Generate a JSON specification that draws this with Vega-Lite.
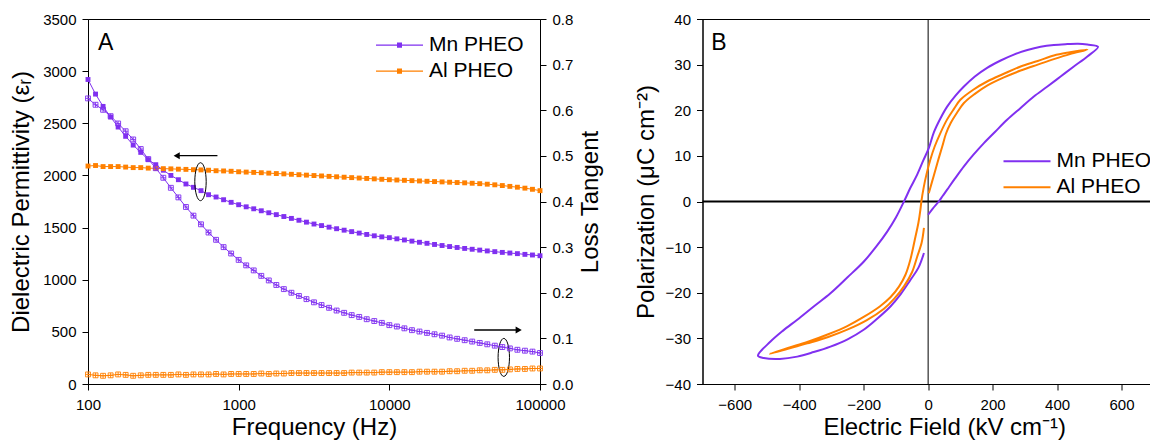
{
"$schema": "https://vega.github.io/schema/vega-lite/v6.json",
"background": "white",
"padding": {"left": 9, "top": 11, "right": 0, "bottom": 0},
"config": {
  "font": "Liberation Sans",
  "view": {"stroke": "black", "strokeWidth": 1},
  "axis": {"labelFont": "Liberation Sans", "labelFontSize": 15, "labelColor": "black", "titleFont": "Liberation Sans", "titleFontSize": 24, "titleFontWeight": "normal", "titleColor": "black", "domainColor": "black", "tickColor": "black", "grid": false, "labelPadding": 6, "domainWidth": 1, "tickWidth": 1, "labelFlush": false},
  "legend": {"labelFont": "Liberation Sans", "labelFontSize": 21, "labelColor": "black"},
  "text": {"font": "Liberation Sans"}
},
"datasets": {
  "freq": [
{"f":100,"s":"Mn PHEO","eps":2920,"tan":0.626},{"f":112.2,"s":"Mn PHEO","eps":2780,"tan":0.612},{"f":125.9,"s":"Mn PHEO","eps":2662,"tan":0.601},{"f":141.3,"s":"Mn PHEO","eps":2560,"tan":0.587},{"f":158.5,"s":"Mn PHEO","eps":2464,"tan":0.571},{"f":177.8,"s":"Mn PHEO","eps":2375,"tan":0.554},{"f":199.5,"s":"Mn PHEO","eps":2291,"tan":0.536},{"f":223.9,"s":"Mn PHEO","eps":2221,"tan":0.515},{"f":251.2,"s":"Mn PHEO","eps":2151,"tan":0.493},{"f":281.8,"s":"Mn PHEO","eps":2103,"tan":0.473},
{"f":316.2,"s":"Mn PHEO","eps":2050,"tan":0.452},{"f":354.8,"s":"Mn PHEO","eps":2000,"tan":0.430},{"f":398.1,"s":"Mn PHEO","eps":1959,"tan":0.409},{"f":446.7,"s":"Mn PHEO","eps":1918,"tan":0.388},{"f":501.2,"s":"Mn PHEO","eps":1886,"tan":0.369},{"f":562.3,"s":"Mn PHEO","eps":1854,"tan":0.350},{"f":631,"s":"Mn PHEO","eps":1815,"tan":0.332},{"f":707.9,"s":"Mn PHEO","eps":1793,"tan":0.316},{"f":794.3,"s":"Mn PHEO","eps":1767,"tan":0.300},{"f":891.3,"s":"Mn PHEO","eps":1742,"tan":0.286},
{"f":1000,"s":"Mn PHEO","eps":1719,"tan":0.272},{"f":1122,"s":"Mn PHEO","eps":1699,"tan":0.260},{"f":1259,"s":"Mn PHEO","eps":1680,"tan":0.249},{"f":1413,"s":"Mn PHEO","eps":1661,"tan":0.237},{"f":1585,"s":"Mn PHEO","eps":1642,"tan":0.227},{"f":1778,"s":"Mn PHEO","eps":1624,"tan":0.217},{"f":1995,"s":"Mn PHEO","eps":1606,"tan":0.208},{"f":2239,"s":"Mn PHEO","eps":1588,"tan":0.200},{"f":2512,"s":"Mn PHEO","eps":1570,"tan":0.193},{"f":2818,"s":"Mn PHEO","eps":1552,"tan":0.186},
{"f":3162,"s":"Mn PHEO","eps":1534,"tan":0.179},{"f":3548,"s":"Mn PHEO","eps":1519,"tan":0.173},{"f":3981,"s":"Mn PHEO","eps":1504,"tan":0.167},{"f":4467,"s":"Mn PHEO","eps":1489,"tan":0.161},{"f":5012,"s":"Mn PHEO","eps":1475,"tan":0.156},{"f":5623,"s":"Mn PHEO","eps":1461,"tan":0.151},{"f":6310,"s":"Mn PHEO","eps":1447,"tan":0.147},{"f":7079,"s":"Mn PHEO","eps":1434,"tan":0.142},{"f":7943,"s":"Mn PHEO","eps":1421,"tan":0.138},{"f":8913,"s":"Mn PHEO","eps":1411,"tan":0.134},
{"f":10000,"s":"Mn PHEO","eps":1403,"tan":0.129},{"f":11220,"s":"Mn PHEO","eps":1392,"tan":0.126},{"f":12590,"s":"Mn PHEO","eps":1381,"tan":0.122},{"f":14130,"s":"Mn PHEO","eps":1370,"tan":0.118},{"f":15850,"s":"Mn PHEO","eps":1359,"tan":0.115},{"f":17780,"s":"Mn PHEO","eps":1349,"tan":0.112},{"f":19950,"s":"Mn PHEO","eps":1338,"tan":0.109},{"f":22390,"s":"Mn PHEO","eps":1328,"tan":0.106},{"f":25120,"s":"Mn PHEO","eps":1318,"tan":0.102},{"f":28180,"s":"Mn PHEO","eps":1309,"tan":0.099},
{"f":31620,"s":"Mn PHEO","eps":1300,"tan":0.096},{"f":35480,"s":"Mn PHEO","eps":1292,"tan":0.093},{"f":39810,"s":"Mn PHEO","eps":1284,"tan":0.090},{"f":44670,"s":"Mn PHEO","eps":1276,"tan":0.087},{"f":50120,"s":"Mn PHEO","eps":1269,"tan":0.084},{"f":56230,"s":"Mn PHEO","eps":1262,"tan":0.081},{"f":63100,"s":"Mn PHEO","eps":1256,"tan":0.078},{"f":70790,"s":"Mn PHEO","eps":1250,"tan":0.075},{"f":79430,"s":"Mn PHEO","eps":1243,"tan":0.073},{"f":89130,"s":"Mn PHEO","eps":1237,"tan":0.071},{"f":100000,"s":"Mn PHEO","eps":1230,"tan":0.068},
{"f":100,"s":"Al PHEO","eps":2090,"tan":0.021},{"f":112.2,"s":"Al PHEO","eps":2095,"tan":0.019},{"f":125.9,"s":"Al PHEO","eps":2085,"tan":0.018},{"f":141.3,"s":"Al PHEO","eps":2085,"tan":0.019},{"f":158.5,"s":"Al PHEO","eps":2085,"tan":0.021},{"f":177.8,"s":"Al PHEO","eps":2080,"tan":0.020},{"f":199.5,"s":"Al PHEO","eps":2075,"tan":0.018},{"f":223.9,"s":"Al PHEO","eps":2075,"tan":0.019},{"f":251.2,"s":"Al PHEO","eps":2070,"tan":0.020},{"f":281.8,"s":"Al PHEO","eps":2068,"tan":0.020},
{"f":316.2,"s":"Al PHEO","eps":2065,"tan":0.020},{"f":354.8,"s":"Al PHEO","eps":2063,"tan":0.020},{"f":398.1,"s":"Al PHEO","eps":2060,"tan":0.021},{"f":446.7,"s":"Al PHEO","eps":2058,"tan":0.020},{"f":501.2,"s":"Al PHEO","eps":2055,"tan":0.021},{"f":562.3,"s":"Al PHEO","eps":2053,"tan":0.021},{"f":631,"s":"Al PHEO","eps":2050,"tan":0.021},{"f":707.9,"s":"Al PHEO","eps":2045,"tan":0.022},{"f":794.3,"s":"Al PHEO","eps":2043,"tan":0.021},{"f":891.3,"s":"Al PHEO","eps":2040,"tan":0.022},
{"f":1000,"s":"Al PHEO","eps":2035,"tan":0.022},{"f":1122,"s":"Al PHEO","eps":2032,"tan":0.022},{"f":1259,"s":"Al PHEO","eps":2029,"tan":0.022},{"f":1413,"s":"Al PHEO","eps":2026,"tan":0.023},{"f":1585,"s":"Al PHEO","eps":2022,"tan":0.022},{"f":1778,"s":"Al PHEO","eps":2018,"tan":0.023},{"f":1995,"s":"Al PHEO","eps":2015,"tan":0.023},{"f":2239,"s":"Al PHEO","eps":2011,"tan":0.024},{"f":2512,"s":"Al PHEO","eps":2007,"tan":0.024},{"f":2818,"s":"Al PHEO","eps":2003,"tan":0.024},
{"f":3162,"s":"Al PHEO","eps":1999,"tan":0.024},{"f":3548,"s":"Al PHEO","eps":1995,"tan":0.024},{"f":3981,"s":"Al PHEO","eps":1991,"tan":0.024},{"f":4467,"s":"Al PHEO","eps":1987,"tan":0.024},{"f":5012,"s":"Al PHEO","eps":1983,"tan":0.024},{"f":5623,"s":"Al PHEO","eps":1979,"tan":0.025},{"f":6310,"s":"Al PHEO","eps":1975,"tan":0.025},{"f":7079,"s":"Al PHEO","eps":1971,"tan":0.025},{"f":7943,"s":"Al PHEO","eps":1967,"tan":0.025},{"f":8913,"s":"Al PHEO","eps":1963,"tan":0.026},
{"f":10000,"s":"Al PHEO","eps":1959,"tan":0.026},{"f":11220,"s":"Al PHEO","eps":1956,"tan":0.026},{"f":12590,"s":"Al PHEO","eps":1953,"tan":0.026},{"f":14130,"s":"Al PHEO","eps":1950,"tan":0.026},{"f":15850,"s":"Al PHEO","eps":1947,"tan":0.027},{"f":17780,"s":"Al PHEO","eps":1944,"tan":0.027},{"f":19950,"s":"Al PHEO","eps":1941,"tan":0.027},{"f":22390,"s":"Al PHEO","eps":1938,"tan":0.027},{"f":25120,"s":"Al PHEO","eps":1935,"tan":0.028},{"f":28180,"s":"Al PHEO","eps":1932,"tan":0.028},
{"f":31620,"s":"Al PHEO","eps":1929,"tan":0.029},{"f":35480,"s":"Al PHEO","eps":1925,"tan":0.029},{"f":39810,"s":"Al PHEO","eps":1921,"tan":0.030},{"f":44670,"s":"Al PHEO","eps":1916,"tan":0.030},{"f":50120,"s":"Al PHEO","eps":1910,"tan":0.031},{"f":56230,"s":"Al PHEO","eps":1903,"tan":0.031},{"f":63100,"s":"Al PHEO","eps":1895,"tan":0.032},{"f":70790,"s":"Al PHEO","eps":1887,"tan":0.033},{"f":79430,"s":"Al PHEO","eps":1878,"tan":0.033},{"f":89130,"s":"Al PHEO","eps":1867,"tan":0.034},{"f":100000,"s":"Al PHEO","eps":1854,"tan":0.034}
  ],
  "loops": [
{"s":"Mn PHEO","k":0,"E":-13,"P":-11.3},{"s":"Mn PHEO","k":1,"E":-30,"P":-14.5},{"s":"Mn PHEO","k":2,"E":-55,"P":-17.2},{"s":"Mn PHEO","k":3,"E":-85,"P":-20.3},{"s":"Mn PHEO","k":4,"E":-117,"P":-23.0},{"s":"Mn PHEO","k":5,"E":-160,"P":-25.8},{"s":"Mn PHEO","k":6,"E":-200,"P":-28.1},{"s":"Mn PHEO","k":7,"E":-250,"P":-30.2},{"s":"Mn PHEO","k":8,"E":-303,"P":-31.8},{"s":"Mn PHEO","k":9,"E":-355,"P":-33.0},{"s":"Mn PHEO","k":10,"E":-406,"P":-34.0},{"s":"Mn PHEO","k":11,"E":-460,"P":-34.5},{"s":"Mn PHEO","k":12,"E":-510,"P":-34.3},{"s":"Mn PHEO","k":13,"E":-528,"P":-33.8},
{"s":"Mn PHEO","k":14,"E":-489,"P":-30.7},{"s":"Mn PHEO","k":15,"E":-450,"P":-28.3},{"s":"Mn PHEO","k":16,"E":-406,"P":-25.9},{"s":"Mn PHEO","k":17,"E":-355,"P":-23.0},{"s":"Mn PHEO","k":18,"E":-303,"P":-20.1},{"s":"Mn PHEO","k":19,"E":-250,"P":-16.6},{"s":"Mn PHEO","k":20,"E":-200,"P":-13.2},{"s":"Mn PHEO","k":21,"E":-160,"P":-9.8},{"s":"Mn PHEO","k":22,"E":-127,"P":-6.6},{"s":"Mn PHEO","k":23,"E":-100,"P":-3.5},{"s":"Mn PHEO","k":24,"E":-75,"P":0},{"s":"Mn PHEO","k":25,"E":-55,"P":3.0},{"s":"Mn PHEO","k":26,"E":-34,"P":5.9},{"s":"Mn PHEO","k":27,"E":-15,"P":9.0},{"s":"Mn PHEO","k":28,"E":2,"P":11.7},{"s":"Mn PHEO","k":29,"E":18,"P":15.2},{"s":"Mn PHEO","k":30,"E":38,"P":18.2},{"s":"Mn PHEO","k":31,"E":59,"P":20.8},{"s":"Mn PHEO","k":32,"E":85,"P":23.2},{"s":"Mn PHEO","k":33,"E":111,"P":25.2},{"s":"Mn PHEO","k":34,"E":145,"P":27.4},{"s":"Mn PHEO","k":35,"E":183,"P":29.3},{"s":"Mn PHEO","k":36,"E":225,"P":30.9},{"s":"Mn PHEO","k":37,"E":266,"P":32.2},{"s":"Mn PHEO","k":38,"E":308,"P":33.2},{"s":"Mn PHEO","k":39,"E":349,"P":33.9},{"s":"Mn PHEO","k":40,"E":390,"P":34.3},{"s":"Mn PHEO","k":41,"E":432,"P":34.5},{"s":"Mn PHEO","k":42,"E":465,"P":34.6},{"s":"Mn PHEO","k":43,"E":494,"P":34.4},{"s":"Mn PHEO","k":44,"E":527,"P":33.9},
{"s":"Mn PHEO","k":45,"E":494,"P":31.8},{"s":"Mn PHEO","k":46,"E":452,"P":29.6},{"s":"Mn PHEO","k":47,"E":411,"P":27.4},{"s":"Mn PHEO","k":48,"E":370,"P":25.2},{"s":"Mn PHEO","k":49,"E":328,"P":23.0},{"s":"Mn PHEO","k":50,"E":287,"P":20.5},{"s":"Mn PHEO","k":51,"E":245,"P":17.9},{"s":"Mn PHEO","k":52,"E":208,"P":15.3},{"s":"Mn PHEO","k":53,"E":173,"P":12.8},{"s":"Mn PHEO","k":54,"E":140,"P":10.2},{"s":"Mn PHEO","k":55,"E":111,"P":7.7},{"s":"Mn PHEO","k":56,"E":83,"P":5.0},{"s":"Mn PHEO","k":57,"E":59,"P":2.6},{"s":"Mn PHEO","k":58,"E":45,"P":1.2},{"s":"Mn PHEO","k":59,"E":33,"P":0},{"s":"Mn PHEO","k":60,"E":15,"P":-1.5},{"s":"Mn PHEO","k":61,"E":0,"P":-2.9},
{"s":"Al PHEO","k":0,"E":-13,"P":-5.8},{"s":"Al PHEO","k":1,"E":-20,"P":-9.0},{"s":"Al PHEO","k":2,"E":-34,"P":-12.1},{"s":"Al PHEO","k":3,"E":-50,"P":-15.5},{"s":"Al PHEO","k":4,"E":-75,"P":-18.6},{"s":"Al PHEO","k":5,"E":-105,"P":-21.3},{"s":"Al PHEO","k":6,"E":-137,"P":-23.5},{"s":"Al PHEO","k":7,"E":-190,"P":-26.0},{"s":"Al PHEO","k":8,"E":-251,"P":-28.1},{"s":"Al PHEO","k":9,"E":-310,"P":-29.7},{"s":"Al PHEO","k":10,"E":-375,"P":-31.1},{"s":"Al PHEO","k":11,"E":-435,"P":-32.3},{"s":"Al PHEO","k":12,"E":-491,"P":-33.4},
{"s":"Al PHEO","k":13,"E":-435,"P":-32.1},{"s":"Al PHEO","k":14,"E":-375,"P":-30.8},{"s":"Al PHEO","k":15,"E":-310,"P":-29.1},{"s":"Al PHEO","k":16,"E":-251,"P":-27.3},{"s":"Al PHEO","k":17,"E":-200,"P":-25.3},{"s":"Al PHEO","k":18,"E":-150,"P":-23.0},{"s":"Al PHEO","k":19,"E":-117,"P":-21.0},{"s":"Al PHEO","k":20,"E":-90,"P":-18.6},{"s":"Al PHEO","k":21,"E":-70,"P":-16.0},{"s":"Al PHEO","k":22,"E":-55,"P":-12.7},{"s":"Al PHEO","k":23,"E":-42,"P":-8.6},{"s":"Al PHEO","k":24,"E":-30,"P":-4.6},{"s":"Al PHEO","k":25,"E":-24,"P":-1.8},{"s":"Al PHEO","k":26,"E":-21,"P":0},{"s":"Al PHEO","k":27,"E":-14,"P":3.0},{"s":"Al PHEO","k":28,"E":-5,"P":6.0},{"s":"Al PHEO","k":29,"E":7,"P":9.2},{"s":"Al PHEO","k":30,"E":20,"P":12.0},{"s":"Al PHEO","k":31,"E":38,"P":15.0},{"s":"Al PHEO","k":32,"E":59,"P":18.0},{"s":"Al PHEO","k":33,"E":80,"P":20.3},{"s":"Al PHEO","k":34,"E":100,"P":22.3},{"s":"Al PHEO","k":35,"E":140,"P":24.5},{"s":"Al PHEO","k":36,"E":183,"P":26.3},{"s":"Al PHEO","k":37,"E":235,"P":28.0},{"s":"Al PHEO","k":38,"E":287,"P":29.6},{"s":"Al PHEO","k":39,"E":340,"P":30.8},{"s":"Al PHEO","k":40,"E":390,"P":32.0},{"s":"Al PHEO","k":41,"E":440,"P":32.7},{"s":"Al PHEO","k":42,"E":494,"P":33.3},
{"s":"Al PHEO","k":43,"E":440,"P":32.3},{"s":"Al PHEO","k":44,"E":390,"P":31.2},{"s":"Al PHEO","k":45,"E":340,"P":30.0},{"s":"Al PHEO","k":46,"E":287,"P":28.7},{"s":"Al PHEO","k":47,"E":235,"P":27.2},{"s":"Al PHEO","k":48,"E":183,"P":25.4},{"s":"Al PHEO","k":49,"E":145,"P":23.6},{"s":"Al PHEO","k":50,"E":111,"P":21.6},{"s":"Al PHEO","k":51,"E":90,"P":19.5},{"s":"Al PHEO","k":52,"E":70,"P":17.2},{"s":"Al PHEO","k":53,"E":55,"P":14.8},{"s":"Al PHEO","k":54,"E":44,"P":12.1},{"s":"Al PHEO","k":55,"E":33,"P":9.5},{"s":"Al PHEO","k":56,"E":23,"P":7.0},{"s":"Al PHEO","k":57,"E":12,"P":4.3},{"s":"Al PHEO","k":58,"E":2,"P":1.8}
  ],
  "arrows": [{"f":723,"f2":388,"eps":2189,"dir":"left"},{"f":36600,"f2":72200,"eps":518,"dir":"right"}],
  "rings": [{"f":558,"eps":1940},{"f":57500,"eps":255}],
  "labA": [{"f":131,"eps":3273,"lab":"A"}],
  "labB": [{"E":-649,"P":34.8,"lab":"B"}]
},
"resolve": {"scale": {"color": "independent"}, "legend": {"color": "independent"}},
"bounds": "flush",
"spacing": 162.5,
"hconcat": [
{
  "width": 452, "height": 365,
  "layer": [
    {
      "layer": [
        {"data": {"name": "freq"}, "mark": {"type": "line", "strokeWidth": 1},
         "encoding": {
           "x": {"field": "f", "type": "quantitative", "scale": {"type": "log", "domain": [100, 100000], "nice": false}, "axis": {"title": "Frequency (Hz)", "values": [100, 1000, 10000, 100000], "format": "d", "tickSize": 6, "labelPadding": 7, "titlePadding": 3, "labelFlush": false}},
           "y": {"field": "eps", "type": "quantitative", "scale": {"domain": [0, 3500], "nice": false, "zero": false},
                 "axis": {"title": "Dielectric Permittivity (εᵣ)", "format": "d", "values": [0,250,500,750,1000,1250,1500,1750,2000,2250,2500,2750,3000,3250,3500], "labelExpr": "datum.value % 500 == 0 ? datum.label : ''", "tickSize": {"condition": {"test": "datum.value % 500 == 0", "value": 6}, "value": 3.5}, "titlePadding": 9}},
           "color": {"field": "s", "type": "nominal", "scale": {"domain": ["Mn PHEO", "Al PHEO"], "range": ["#8030F0", "#FF8000"]},
                     "legend": {"title": null, "orient": "none", "legendX": 300.5, "legendY": 15.2, "padding": 0, "symbolType": "M -2.35 0 L 2.35 0 M -0.25 -0.2 L 0.25 -0.2 M -0.25 -0.1 L 0.25 -0.1 M -0.25 0.1 L 0.25 0.1 M -0.25 0.2 L 0.25 0.2", "symbolSize": 400, "symbolStrokeWidth": 1.2, "symbolFillColor": "transparent", "labelOffset": 18.5, "rowPadding": 5, "labelFontSize": 21}}
         }},
        {"data": {"name": "freq"}, "mark": {"type": "point", "shape": "square", "filled": true, "size": 24, "opacity": 1},
         "encoding": {
           "x": {"field": "f", "type": "quantitative"},
           "y": {"field": "eps", "type": "quantitative"},
           "color": {"field": "s", "type": "nominal"}
         }},
        {"data": {"name": "arrows"}, "mark": {"type": "rule", "strokeWidth": 1.3, "color": "black"},
         "encoding": {"x": {"field": "f", "type": "quantitative"}, "x2": {"field": "f2"}, "y": {"field": "eps", "type": "quantitative"}}},
        {"data": {"name": "arrows"}, "mark": {"type": "point", "filled": true, "color": "black", "size": 50, "opacity": 1},
         "encoding": {"x": {"field": "f2", "type": "quantitative"}, "y": {"field": "eps", "type": "quantitative"},
                      "shape": {"field": "dir", "type": "nominal", "scale": {"domain": ["left", "right"], "range": ["triangle-left", "triangle-right"]}, "legend": null}}},
        {"data": {"name": "rings"}, "mark": {"type": "point", "shape": "M 0 -1 A 0.3 1 0 1 1 0 1 A 0.3 1 0 1 1 0 -1 Z", "size": 1444, "filled": false, "color": "black", "strokeWidth": 1, "opacity": 1},
         "encoding": {"x": {"field": "f", "type": "quantitative"}, "y": {"field": "eps", "type": "quantitative"}}},
        {"data": {"name": "labA"}, "mark": {"type": "text", "fontSize": 23, "align": "center", "baseline": "middle", "color": "black"},
         "encoding": {"x": {"field": "f", "type": "quantitative"}, "y": {"field": "eps", "type": "quantitative"}, "text": {"field": "lab"}}}
      ]
    },
    {
      "layer": [
        {"data": {"name": "freq"}, "mark": {"type": "line", "strokeWidth": 1},
         "encoding": {
           "x": {"field": "f", "type": "quantitative"},
           "y": {"field": "tan", "type": "quantitative", "scale": {"domain": [0, 0.8], "nice": false, "zero": false},
                 "axis": {"orient": "right", "title": "Loss Tangent", "titleAngle": 270, "titleBaseline": "top", "values": [0,0.05,0.1,0.15,0.2,0.25,0.3,0.35,0.4,0.45,0.5,0.55,0.6,0.65,0.7,0.75,0.8], "format": ".1f", "labelExpr": "round(datum.value*20) % 2 == 0 ? datum.label : ''", "tickSize": {"condition": {"test": "round(datum.value*20) % 2 == 0", "value": 6}, "value": 3.5}, "titlePadding": 6}},
           "color": {"field": "s", "type": "nominal"}
         }},
        {"data": {"name": "freq"}, "mark": {"type": "point", "shape": "M -1 -1 L 1 -1 L 1 1 L -1 1 Z M 0 -1 L 0 1 M -1 0 L 1 0", "filled": false, "size": 24, "strokeWidth": 0.9, "opacity": 1},
         "encoding": {
           "x": {"field": "f", "type": "quantitative"},
           "y": {"field": "tan", "type": "quantitative"},
           "color": {"field": "s", "type": "nominal"}
         }}
      ]
    }
  ],
  "resolve": {"scale": {"y": "independent"}}
},
{
  "width": 483.5, "height": 365,
  "layer": [
    {"data": {"values": [{}]}, "mark": {"type": "rule", "strokeWidth": 2, "color": "black"},
     "encoding": {"y": {"datum": 0, "type": "quantitative"}}},
    {"data": {"values": [{}]}, "mark": {"type": "rule", "strokeWidth": 1, "color": "black"},
     "encoding": {"x": {"datum": 0, "type": "quantitative"}}},
    {"data": {"name": "loops"}, "mark": {"type": "line", "strokeWidth": 2, "interpolate": "catmull-rom"},
     "encoding": {
       "x": {"field": "E", "type": "quantitative", "scale": {"domain": [-700, 800], "nice": false, "zero": false},
             "axis": {"title": "Electric Field (kV cm⁻¹)", "values": [-600,-500,-400,-300,-200,-100,0,100,200,300,400,500,600,700], "format": "d", "labelExpr": "datum.value % 200 == 0 ? datum.label : ''", "tickSize": {"condition": {"test": "datum.value % 200 == 0", "value": 6}, "value": 3.5}, "labelPadding": 7, "titlePadding": 3, "labelFlush": false}},
       "y": {"field": "P", "type": "quantitative", "scale": {"domain": [-40, 40], "nice": false, "zero": false},
             "axis": {"title": "Polarization (μC cm⁻²)", "values": [-40,-35,-30,-25,-20,-15,-10,-5,0,5,10,15,20,25,30,35,40], "format": "d", "labelExpr": "datum.value % 10 == 0 ? datum.label : ''", "tickSize": {"condition": {"test": "datum.value % 10 == 0", "value": 6}, "value": 3.5}, "titlePadding": 7}},
       "order": {"field": "k", "type": "quantitative"},
       "color": {"field": "s", "type": "nominal", "scale": {"domain": ["Mn PHEO", "Al PHEO"], "range": ["#8030F0", "#FF8000"]},
                 "legend": {"title": null, "orient": "none", "legendX": 313.5, "legendY": 131.2, "padding": 0, "symbolType": "M -2.35 0 L 2.35 0", "symbolSize": 400, "symbolStrokeWidth": 2, "symbolFillColor": "transparent", "labelOffset": 18.5, "rowPadding": 5, "labelFontSize": 21}}
     }},
    {"data": {"name": "labB"}, "mark": {"type": "text", "fontSize": 23, "align": "center", "baseline": "middle", "color": "black"},
     "encoding": {"x": {"field": "E", "type": "quantitative"}, "y": {"field": "P", "type": "quantitative"}, "text": {"field": "lab"}}}
  ]
}
]
}
